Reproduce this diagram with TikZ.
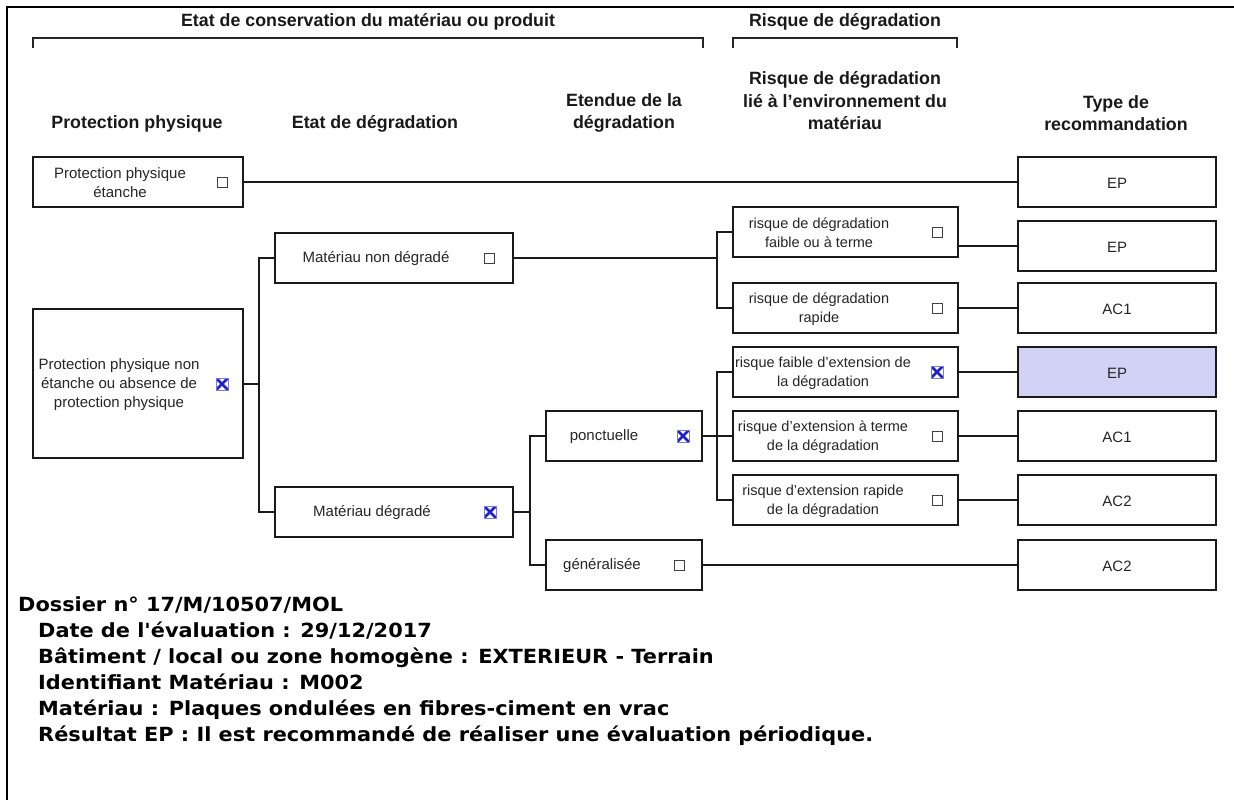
\documentclass[tikz,border=0pt]{standalone}
\usepackage{fontspec}
\setmainfont{Liberation Sans}
\newfontfamily\verd[FakeStretch=1.07]{DejaVu Sans}
\definecolor{lineblack}{HTML}{1A1A1A}
\definecolor{xblue}{HTML}{2020C8}
\definecolor{hilite}{HTML}{D2D2F6}
\begin{document}
\begin{tikzpicture}[x=1pt,y=-1pt,
  box/.style={draw=lineblack, line width=1.6pt, fill=white, inner sep=0pt},
  lbl/.style={align=center, inner sep=0pt, font=\fontsize{15}{19}\selectfont, text=black!85},
  lbls/.style={align=center, inner sep=0pt, font=\fontsize{14.5}{19}\selectfont, text=black!85},
  head/.style={align=center, inner sep=0pt, font=\fontsize{17.8}{22.5}\selectfont\bfseries, text=black!90},
  chk/.style={draw=black!75, line width=1pt, minimum size=10pt, inner sep=0pt},
  chkx/.style={draw=xblue!60, line width=0.8pt, minimum size=12pt, inner sep=0pt,
    path picture={\draw[xblue, line width=2.8pt]
      (path picture bounding box.north west) -- (path picture bounding box.south east)
      (path picture bounding box.north east) -- (path picture bounding box.south west);}},
  conn/.style={draw=lineblack, line width=1.5pt},
  brk/.style={draw=black!85, line width=1.5pt},
  info/.style={anchor=base west, inner sep=0pt, font=\verd\bfseries\fontsize{19.5}{22}\selectfont}
]
\useasboundingbox (0,0) rectangle (1234,800);
% outer frame
\draw[line width=2.6pt] (7,800) -- (7,7) -- (1234,7);

% top headers and brackets
\node[head] (top1) at (368,22) {Etat de conservation du matériau ou produit};
\node[head] (top2) at (845,22) {Risque de dégradation};
\draw[brk] (33,48) -- (33,38) -- (703,38) -- (703,48);
\draw[brk] (733,48) -- (733,38) -- (957,38) -- (957,48);

% column headers
\node[head] (hprot) at (137,124) {Protection physique};
\node[head] (hetat) at (375,124) {Etat de dégradation};
\node[head] (hetend) at (624,113) {Etendue de la\\dégradation};
\node[head] (hrisk) at (845,101) {Risque de dégradation\\lié à l'environnement du\\matériau};
\node[head] (htype) at (1116,113) {Type de\\recommandation};

% column 1
\node[box, minimum width=210pt, minimum height=50pt] (b1) at (138,182) {};
\node[lbl] (b1t) at (120,183) {Protection physique\\étanche};
\node[chk] (b1c) at (222,182) {};
\node[box, minimum width=210pt, minimum height=149pt] (b2) at (138,383.5) {};
\node[lbl] (b2t) at (119,385) {Protection physique non\\étanche ou absence de\\protection physique};
\node[chkx] (b2c) at (222,384) {};

% column 2
\node[box, minimum width=238pt, minimum height=50pt] (b3) at (394,258) {};
\node[lbl] (b3t) at (376,259) {Matériau non dégradé};
\node[chk] (b3c) at (489,258) {};
\node[box, minimum width=238pt, minimum height=50pt] (b4) at (394,512) {};
\node[lbl] (b4t) at (372,513) {Matériau dégradé};
\node[chkx] (b4c) at (490,512) {};

% column 3
\node[box, minimum width=156pt, minimum height=50pt] (b5) at (624,436) {};
\node[lbl] (b5t) at (604,437) {ponctuelle};
\node[chkx] (b5c) at (683,436) {};
\node[box, minimum width=156pt, minimum height=50pt] (b6) at (624,565) {};
\node[lbl] (b6t) at (602,566) {généralisée};
\node[chk] (b6c) at (679,565) {};

% column 4
\node[box, minimum width=225pt, minimum height=50pt] (r1) at (845.5,232) {};
\node[lbls] (r1t) at (819,233) {risque de dégradation\\faible ou à terme};
\node[chk] (r1c) at (937,232) {};
\node[box, minimum width=225pt, minimum height=50pt] (r2) at (845.5,308) {};
\node[lbls] (r2t) at (819,309) {risque de dégradation\\rapide};
\node[chk] (r2c) at (937,308) {};
\node[box, minimum width=225pt, minimum height=50pt] (r3) at (845.5,372) {};
\node[lbls] (r3t) at (823,373) {risque faible d'extension de\\la dégradation};
\node[chkx] (r3c) at (937,372) {};
\node[box, minimum width=225pt, minimum height=50pt] (r4) at (845.5,436) {};
\node[lbls] (r4t) at (823,437) {risque d'extension à terme\\de la dégradation};
\node[chk] (r4c) at (937,436) {};
\node[box, minimum width=225pt, minimum height=50pt] (r5) at (845.5,500) {};
\node[lbls] (r5t) at (823,501) {risque d'extension rapide\\de la dégradation};
\node[chk] (r5c) at (937,500) {};

% column 5
\node[box, minimum width=198pt, minimum height=50pt] (t1) at (1117,182) {};
\node[lbl] (t1t) at (1117,183) {EP};
\node[box, minimum width=198pt, minimum height=50pt] (t2) at (1117,246) {};
\node[lbl] (t2t) at (1117,247) {EP};
\node[box, minimum width=198pt, minimum height=50pt] (t3) at (1117,308) {};
\node[lbl] (t3t) at (1117,309) {AC1};
\node[box, fill=hilite, minimum width=198pt, minimum height=50pt] (t4) at (1117,372) {};
\node[lbl] (t4t) at (1117,373) {EP};
\node[box, minimum width=198pt, minimum height=50pt] (t5) at (1117,436) {};
\node[lbl] (t5t) at (1117,437) {AC1};
\node[box, minimum width=198pt, minimum height=50pt] (t6) at (1117,500) {};
\node[lbl] (t6t) at (1117,501) {AC2};
\node[box, minimum width=198pt, minimum height=50pt] (t7) at (1117,565) {};
\node[lbl] (t7t) at (1117,566) {AC2};

% junctions
\coordinate (j1) at (259,384);
\coordinate (j2) at (717,258);
\coordinate (j3) at (530,512);
\coordinate (j4) at (717,436);

% connectors
\draw[conn] (b1.east) -- (t1.west);
\draw[conn] (b2.east |- j1) -- (j1);
\draw[conn] (b3.west) -| (j1);
\draw[conn] (b4.west) -| (j1);
\draw[conn] (b3.east) -- (j2);
\draw[conn] (r1.west) -| (j2);
\draw[conn] (r2.west) -| (j2);
\draw[conn] (r1.east |- t2.west) -- (t2.west);
\draw[conn] (r2.east) -- (t3.west);
\draw[conn] (b4.east) -- (j3);
\draw[conn] (b5.west) -| (j3);
\draw[conn] (b6.west) -| (j3);
\draw[conn] (b5.east) -- (j4);
\draw[conn] (r3.west) -| (j4);
\draw[conn] (r4.west) -- (j4);
\draw[conn] (r5.west) -| (j4);
\draw[conn] (r3.east) -- (t4.west);
\draw[conn] (r4.east) -- (t5.west);
\draw[conn] (r5.east) -- (t6.west);
\draw[conn] (b6.east) -- (t7.west);

% info lines
\node[info] (i1) at (18,611) {Dossier n° 17/M/10507/MOL};
\node[info] (i2) at (38,637) {Date de l'évaluation : 29/12/2017};
\node[info] (i3) at (38,663) {Bâtiment / local ou zone homogène : EXTERIEUR - Terrain};
\node[info] (i4) at (38,689) {Identifiant Matériau : M002};
\node[info] (i5) at (38,715) {Matériau : Plaques ondulées en fibres-ciment en vrac};
\node[info] (i6) at (38,741) {Résultat EP : Il est recommandé de réaliser une évaluation périodique.};
\end{tikzpicture}
\end{document}
